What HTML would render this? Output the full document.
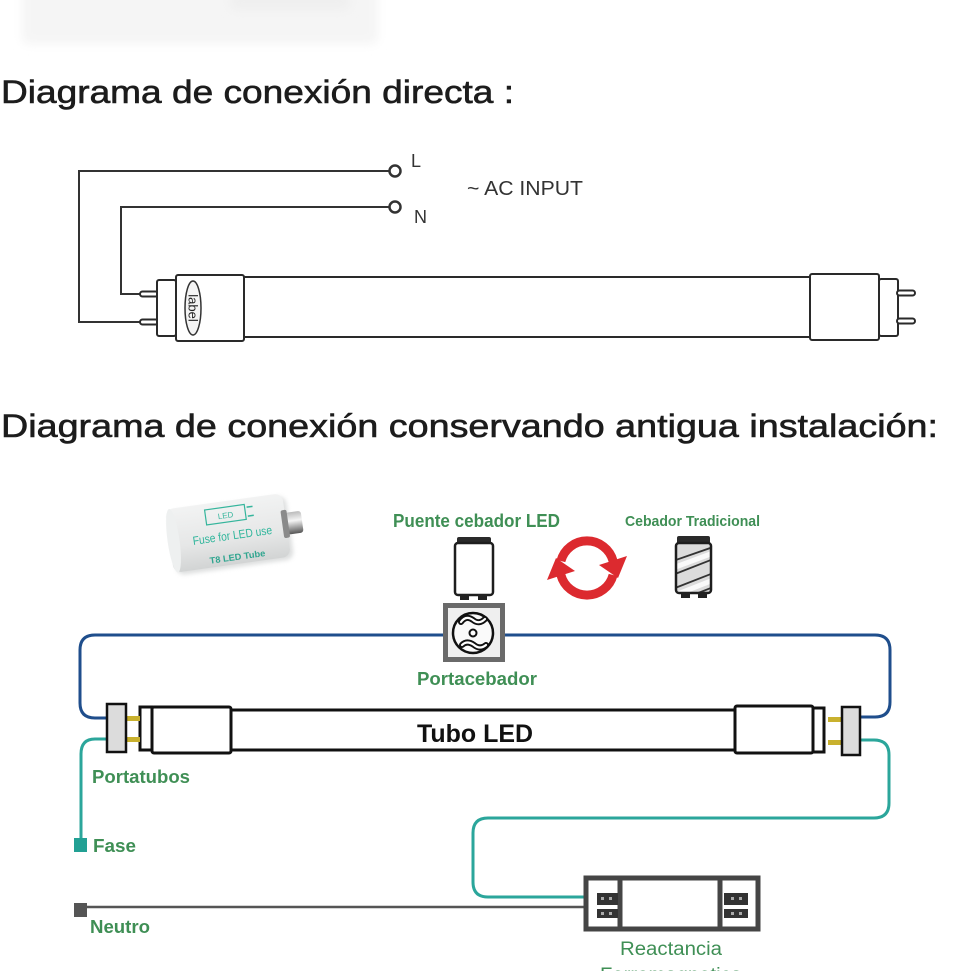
<!DOCTYPE html>
<html><head><meta charset="utf-8"><style>
html,body{margin:0;padding:0;background:#fff;}
svg{display:block;}
</style></head><body>
<svg width="970" height="971" viewBox="0 0 970 971" xmlns="http://www.w3.org/2000/svg">
<defs>
<filter id="blur" x="-20%" y="-50%" width="140%" height="200%"><feGaussianBlur stdDeviation="5"/></filter>
<filter id="sh" x="-20%" y="-20%" width="140%" height="140%"><feGaussianBlur stdDeviation="2"/></filter>
<linearGradient id="fuseg" x1="0" y1="0" x2="0" y2="1">
<stop offset="0" stop-color="#f2f3f3"/><stop offset="0.6" stop-color="#e6e7e7"/><stop offset="1" stop-color="#d2d4d4"/>
</linearGradient>
<linearGradient id="metal" x1="0" y1="0" x2="0" y2="1">
<stop offset="0" stop-color="#bbb"/><stop offset="0.4" stop-color="#f5f5f5"/><stop offset="1" stop-color="#555"/>
</linearGradient>
<clipPath id="tradclip"><rect x="676" y="544" width="35" height="48" rx="3"/></clipPath>
</defs>
<rect width="970" height="971" fill="#fff"/>

<!-- faint top blob -->
<rect x="22" y="-20" width="356" height="64" rx="6" fill="#f5f5f5" filter="url(#blur)"/>
<rect x="230" y="-10" width="120" height="20" rx="6" fill="#efefef" filter="url(#blur)"/>

<!-- Heading 1 -->
<text x="1" y="103" font-family="Liberation Sans, Arial, sans-serif" font-size="32" fill="#1c1c1c" stroke="#1c1c1c" stroke-width="0.6" textLength="513" lengthAdjust="spacingAndGlyphs">Diagrama de conexión directa :</text>

<!-- Top diagram wires -->
<g fill="none" stroke="#333" stroke-width="2">
<path d="M389 171 H79 V322 H140"/>
<path d="M389 207 H121 V294 H140"/>
</g>
<circle cx="395" cy="171" r="5.5" fill="#fff" stroke="#333" stroke-width="2.5"/>
<circle cx="395" cy="207" r="5.5" fill="#fff" stroke="#333" stroke-width="2.5"/>
<text x="411" y="167" font-family="Liberation Sans, Arial, sans-serif" font-size="18" fill="#333">L</text>
<text x="414" y="223" font-family="Liberation Sans, Arial, sans-serif" font-size="18" fill="#333">N</text>
<text x="467" y="195" font-family="Liberation Sans, Arial, sans-serif" font-size="20" fill="#333" textLength="116" lengthAdjust="spacingAndGlyphs">~ AC INPUT</text>

<!-- Top tube -->
<g fill="#fff" stroke="#2a2a2a" stroke-width="2">
<rect x="140" y="291.5" width="18" height="5" rx="2.5"/>
<rect x="140" y="319.5" width="18" height="5" rx="2.5"/>
<rect x="157" y="280" width="19" height="56" rx="2"/>
<rect x="176" y="275" width="68" height="66" rx="2"/>
<line x1="244" y1="277" x2="810" y2="277"/>
<line x1="244" y1="337" x2="810" y2="337"/>
<rect x="810" y="274" width="69" height="66" rx="2"/>
<rect x="879" y="279" width="19" height="57" rx="2"/>
<rect x="897" y="290.5" width="18" height="5" rx="2.5"/>
<rect x="897" y="318.5" width="18" height="5" rx="2.5"/>
</g>
<ellipse cx="193" cy="308" rx="8" ry="27" fill="#f4f4f4" stroke="#333" stroke-width="1.5"/>
<text x="193" y="308" transform="rotate(90 193 308)" text-anchor="middle" dominant-baseline="central" font-family="Liberation Sans, Arial, sans-serif" font-size="13" fill="#222">label</text>

<!-- Heading 2 -->
<text x="1" y="437" font-family="Liberation Sans, Arial, sans-serif" font-size="32" fill="#1c1c1c" stroke="#1c1c1c" stroke-width="0.6" textLength="937" lengthAdjust="spacingAndGlyphs">Diagrama de conexión conservando antigua instalación:</text>

<!-- Fuse image -->
<g transform="rotate(-8 228 533)">
<rect x="172" y="504" width="118" height="64" rx="8" fill="#cfd1d1" filter="url(#sh)" opacity="0.7"/>
<rect x="169" y="501" width="118" height="64" rx="8" fill="url(#fuseg)"/>
<ellipse cx="173" cy="533" rx="6" ry="32" fill="#eef0f0"/>
<rect x="287" y="521" width="16" height="22" rx="3" fill="url(#metal)"/>
<rect x="283" y="518" width="6" height="28" rx="2" fill="#8a8a8a"/>
<rect x="208" y="507" width="40" height="15" fill="none" stroke="#35b59c" stroke-width="1.2"/>
<text x="228" y="518" text-anchor="middle" font-family="Liberation Sans, Arial, sans-serif" font-size="8" fill="#35b59c">LED</text>
<line x1="250" y1="510" x2="256" y2="510" stroke="#35b59c" stroke-width="1.5"/>
<line x1="250" y1="519" x2="256" y2="519" stroke="#35b59c" stroke-width="1.5"/>
<text x="232" y="540" text-anchor="middle" font-family="Liberation Sans, Arial, sans-serif" font-size="12" fill="#2fb59b" textLength="80" lengthAdjust="spacingAndGlyphs">Fuse for LED use</text>
<text x="234" y="561" text-anchor="middle" font-family="Liberation Sans, Arial, sans-serif" font-size="9" font-weight="bold" fill="#2fa58f" textLength="56" lengthAdjust="spacingAndGlyphs">T8 LED Tube</text>
</g>

<!-- Labels green -->
<g font-family="Liberation Sans, Arial, sans-serif" font-weight="bold" fill="#3f8f55">
<text x="393" y="527" font-size="18" textLength="167" lengthAdjust="spacingAndGlyphs">Puente cebador LED</text>
<text x="625" y="526" font-size="15" textLength="135" lengthAdjust="spacingAndGlyphs">Cebador Tradicional</text>
<text x="417" y="685" font-size="18" textLength="120" lengthAdjust="spacingAndGlyphs">Portacebador</text>
<text x="92" y="783" font-size="18" textLength="98" lengthAdjust="spacingAndGlyphs">Portatubos</text>
<text x="93" y="852" font-size="18" textLength="43" lengthAdjust="spacingAndGlyphs">Fase</text>
<text x="90" y="933" font-size="18" textLength="60" lengthAdjust="spacingAndGlyphs">Neutro</text>
<text x="620" y="955" font-size="19" font-weight="normal" textLength="102" lengthAdjust="spacingAndGlyphs">Reactancia</text>
<text x="600" y="981" font-size="19" font-weight="normal" textLength="142" lengthAdjust="spacingAndGlyphs">Ferromagnetica</text>
</g>

<!-- LED starter -->
<rect x="457" y="537" width="34" height="8" rx="2" fill="#2a2a2a"/>
<rect x="455" y="543" width="38" height="52" rx="3" fill="#fff" stroke="#1e1e1e" stroke-width="2.5"/>
<rect x="460" y="594" width="9" height="6" fill="#222"/>
<rect x="478" y="594" width="9" height="6" fill="#222"/>

<!-- Traditional starter -->
<rect x="677" y="536" width="33" height="8" rx="2" fill="#2a2a2a"/>
<rect x="676" y="543" width="35" height="50" rx="3" fill="#dcdcdc"/>
<g clip-path="url(#tradclip)" stroke="#333" stroke-width="1.8">
<path d="M670 562 L716 546" /><path d="M670 576 L716 558" fill="none"/>
<path d="M670 590 L716 572"/><path d="M670 604 L716 586"/>
</g>
<g clip-path="url(#tradclip)" stroke="#fafafa" stroke-width="5">
<path d="M670 569 L716 552"/><path d="M670 597 L716 579"/>
</g>
<rect x="676" y="543" width="35" height="50" rx="3" fill="none" stroke="#1e1e1e" stroke-width="2.5"/>
<rect x="681" y="592" width="9" height="6" fill="#222"/>
<rect x="698" y="592" width="9" height="6" fill="#222"/>

<!-- Red circular arrows -->
<g fill="none" stroke="#dc2a2f" stroke-width="9">
<path d="M560.9 561 A27 27 0 0 1 613.1 561"/>
<path d="M613.1 575 A27 27 0 0 1 560.9 575"/>
</g>
<polygon points="627,556 599,565 618,578" fill="#dc2a2f"/>
<polygon points="547,580 575,571 556,558" fill="#dc2a2f"/>

<!-- Blue wire -->
<path d="M107 718 H95 Q80 718 80 703 V650 Q80 635 95 635 H875 Q890 635 890 650 V702 Q890 717 875 717 H860" fill="none" stroke="#1f4e8c" stroke-width="3"/>

<!-- Portacebador -->
<rect x="445.5" y="605.5" width="57" height="54" fill="#efefef" stroke="#6a6a6a" stroke-width="5"/>
<circle cx="473" cy="633" r="20" fill="#fafafa" stroke="#111" stroke-width="2.5"/>
<path d="M461 622 Q466 615 473 620 Q479 625 485 619" fill="none" stroke="#111" stroke-width="6" stroke-linecap="round"/>
<path d="M461 622 Q466 615 473 620 Q479 625 485 619" fill="none" stroke="#fff" stroke-width="2.2" stroke-linecap="round"/>
<path d="M462 645 Q467 640 474 645 Q480 650 486 645" fill="none" stroke="#111" stroke-width="6" stroke-linecap="round"/>
<path d="M462 645 Q467 640 474 645 Q480 650 486 645" fill="none" stroke="#fff" stroke-width="2.2" stroke-linecap="round"/>
<circle cx="473" cy="633" r="3.5" fill="#fff" stroke="#111" stroke-width="2"/>

<!-- Teal wires -->
<g fill="none" stroke="#2ba69b" stroke-width="3">
<path d="M107 739 H95 Q81 739 81 754 V840"/>
<path d="M860 740 H874 Q889 740 889 755 V803 Q889 818 874 818 H488 Q473 818 473 833 V882 Q473 897 488 897 H598"/>
</g>
<rect x="74" y="838" width="13" height="14" fill="#22a094"/>

<!-- Neutro -->
<line x1="81" y1="907" x2="598" y2="907" stroke="#555" stroke-width="2.5"/>
<rect x="74" y="903" width="13" height="14" fill="#555"/>

<!-- Bottom tube -->
<g stroke="#111" stroke-width="3" fill="#fff">
<line x1="231" y1="710" x2="735" y2="710"/>
<line x1="231" y1="750" x2="735" y2="750"/>
<rect x="140" y="707" width="12" height="43"/>
<rect x="152" y="707" width="79" height="46" rx="2"/>
<rect x="735" y="706" width="78" height="47" rx="2"/>
<rect x="813" y="708" width="11" height="44"/>
</g>
<text x="417" y="742" font-family="Liberation Sans, Arial, sans-serif" font-size="25" font-weight="bold" fill="#111" textLength="116" lengthAdjust="spacingAndGlyphs">Tubo LED</text>
<!-- gold pins -->
<g fill="#c9b12e">
<rect x="126" y="716" width="14" height="5"/>
<rect x="126" y="737" width="14" height="5"/>
<rect x="828" y="717" width="14" height="5"/>
<rect x="828" y="740" width="14" height="5"/>
</g>
<!-- portatubos -->
<rect x="107" y="704" width="19" height="48" fill="#dcdcdc" stroke="#111" stroke-width="2.5"/>
<rect x="842" y="707" width="18" height="48" fill="#dcdcdc" stroke="#111" stroke-width="2.5"/>

<!-- Reactancia -->
<rect x="586" y="878" width="172" height="51" fill="#fff" stroke="#454545" stroke-width="5"/>
<line x1="620" y1="878" x2="620" y2="929" stroke="#454545" stroke-width="5"/>
<line x1="720" y1="878" x2="720" y2="929" stroke="#454545" stroke-width="5"/>
<rect x="597" y="893" width="21" height="12" fill="#333"/>
<rect x="597" y="909" width="21" height="9" fill="#333"/>
<rect x="724" y="893" width="24" height="12" fill="#333"/>
<rect x="724" y="909" width="24" height="9" fill="#333"/>
<g fill="#aaa">
<rect x="601" y="897" width="3" height="3"/><rect x="609" y="897" width="3" height="3"/>
<rect x="601" y="912" width="3" height="3"/><rect x="609" y="912" width="3" height="3"/>
<rect x="731" y="897" width="3" height="3"/><rect x="739" y="897" width="3" height="3"/>
<rect x="731" y="912" width="3" height="3"/><rect x="739" y="912" width="3" height="3"/>
</g>
</svg>
</body></html>
